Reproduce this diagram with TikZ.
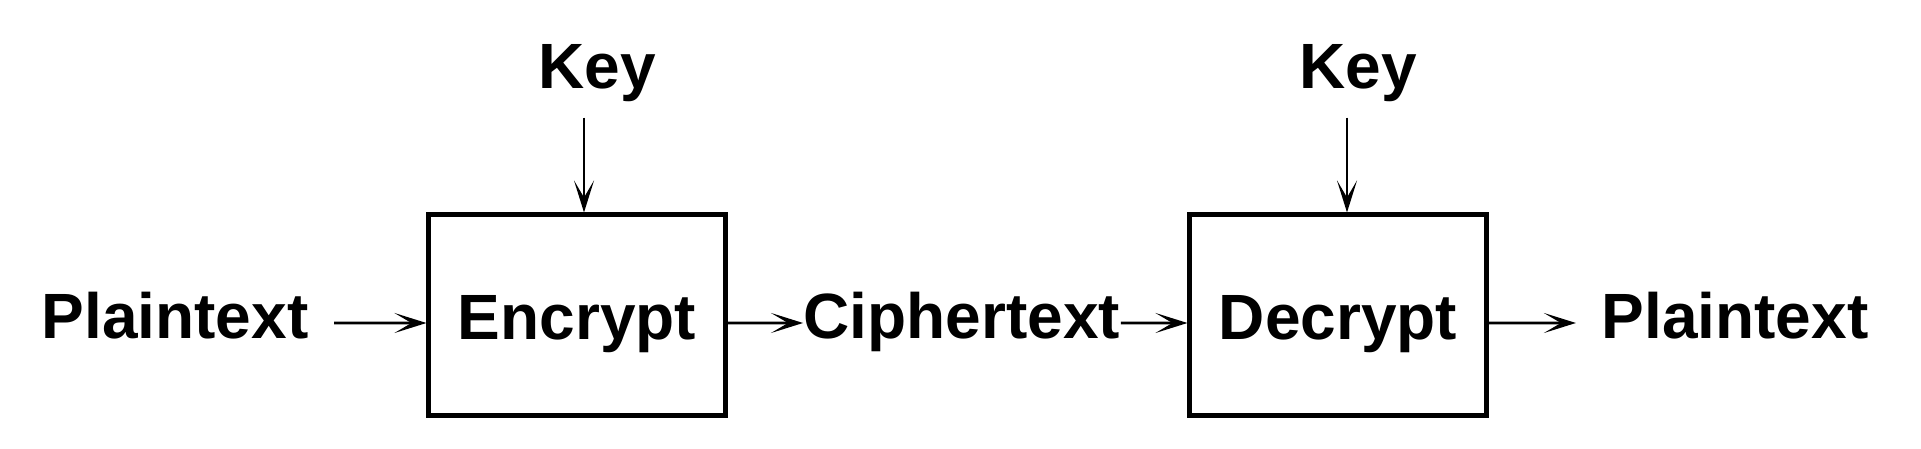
\documentclass[tikz,border=0pt]{standalone}
\usepackage{fontspec}
\setmainfont{Liberation Sans}
\usetikzlibrary{arrows.meta}

\begin{document}
\begin{tikzpicture}[x=0.01cm,y=-0.01cm,font=\fontsize{18.2}{22}\selectfont\bfseries,
    lbl/.style={anchor=base,text height=0.48cm,text depth=0pt,inner sep=0pt},
    box/.style={draw,line width=1.4pt,minimum width=2.96cm,minimum height=2cm,
      text height=0.48cm,text depth=0pt},
    arr/.style={-{Stealth[length=3.2mm,width=2mm,inset=1.7mm]},line width=0.75pt}]
  \useasboundingbox (0,0) rectangle (1921,449);
  % the two boxes
  \node[box] (enc) at (577,315) {Encrypt};
  \node[box] (dec) at (1338,315) {Decrypt};
  % texts
  \node[lbl,inner xsep=0.25cm] (plainA) at (175,339) {Plaintext};
  \node[lbl] (cipher) at (962,339) {Ciphertext};
  \node[lbl,inner xsep=0.25cm] (plainB) at (1735,339) {Plaintext};
  \node[lbl,inner ysep=0.28cm] (keyA) at (597,89) {Key};
  \node[lbl,inner ysep=0.28cm] (keyB) at (1358,89) {Key};
  \coordinate (kA) at ([xshift=0.07cm]enc.north);
  \coordinate (kB) at ([xshift=0.09cm]dec.north);
  % arrows
  \draw[arr] ([yshift=-0.08cm]plainA.east) -- ([yshift=-0.08cm]enc.west);
  \draw[arr] ([yshift=-0.08cm]enc.east) -- ([yshift=-0.08cm]cipher.west);
  \draw[arr] ([yshift=-0.08cm]cipher.east) -- ([yshift=-0.08cm]dec.west);
  \draw[arr] ([yshift=-0.08cm]dec.east) -- ([yshift=-0.08cm]plainB.west);
  \draw[arr] (keyA.south -| kA) -- (kA);
  \draw[arr] (keyB.south -| kB) -- (kB);
\end{tikzpicture}
\end{document}
